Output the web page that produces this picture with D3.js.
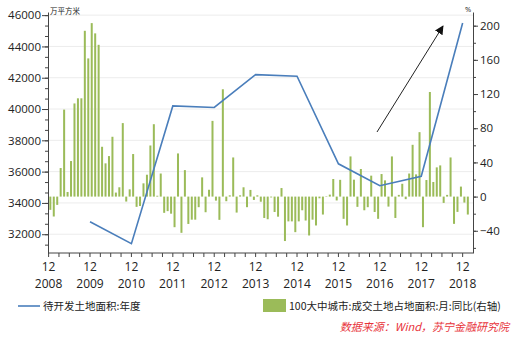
<!DOCTYPE html>
<html>
<head>
<meta charset="utf-8">
<script src="https://cdn.jsdelivr.net/npm/d3@7"></script>
<style>
  body { margin: 0; background: #fff; }
  svg { display: block; }
</style>
</head>
<body>
<div id="chart"></div>
<script>

// months on the x axis: 2008-12 .. 2019-02 (the last month has no bar)
var months = d3.timeMonth.range(new Date(2008, 11, 1), new Date(2019, 2, 1));

// 100大中城市:成交土地占地面积:月:同比 (%), from 2008-12
var yoy = [
  -15.5, -23.3, -9.7, 33.4, 101.8, 5.4, 41.6, 109, 115, 115, 194, 161.7, 203,
  191, 177.6, 58.3, 38.9, 47.4, 70, 4.7, 10.9, 86, -5.8, 8.5, 49.8,
  -12, -11, 15.5, 25.6, 59.8, 84.7, 1, 27, -19, -17, -20, -35.8, 50.5, -42.4,
  31, -32, -27, -27, -12.4, 22.5, -18.3, 8, 88.6, -4.7, -27.2, 125.6, -5.4, 1.5,
  45.8, -18.7,
  1.5, 10.9, -12.4, 7.8, -3.9, 1.5, -6, -25, -26.5, -1, -18, -23.5, 10, -52,
  -29, -29, -41.6, -29,
  -16, -28, -45.5, -27, -33.8, -2, -21, 0.5, 2.3, 20.6, -4.5, 19.6, -26, -33.8,
  47, 19.8, -12, 32.3, -16, -12.4, 24.5, -18, -26, 26.4, 19,
  -11.7, 47, -25, 2, 15, -3, 27, 60.6, 26, 75.4, -35.8, 19.4, 122.4, 17.1, 34.2,
  36.5, -7.4, 2, 45.8, -31.9, -17.9, 11.7, -7, -21
];

// 待开发土地面积:年度 (万平方米)
var years = [2009, 2010, 2011, 2012, 2013, 2014, 2015, 2016, 2017, 2018];
var landArea = [32800, 31400, 40200, 40100, 42200, 42100, 36500, 35100, 35700, 45500];

var leftTicks = [32000, 34000, 36000, 38000, 40000, 42000, 44000, 46000];
var rightTicks = [-40, 0, 40, 80, 120, 160, 200];
var yearLabels = [2008, 2009, 2010, 2011, 2012, 2013, 2014, 2015, 2016, 2017, 2018];

var fmt = d3.timeFormat("%Y-%m");

var svgWidth = 521, svgHeight = 337;
var plotLeft = 48, plotRight = 473, plotTop = 12, plotBottom = 253;

var svg = d3.select("#chart").append("svg")
  .attr("width", svgWidth)
  .attr("height", svgHeight)
  .style("font-family", "'Open Sans', 'Noto Sans CJK SC', sans-serif");

// scales
var x = d3.scaleBand()
  .domain(months.map(fmt))
  .range([48.6, plotRight])
  .padding(0);

var yL = d3.scaleLinear().domain([30800, 46200]).range([plotBottom, plotTop]);
var yR = d3.scaleLinear().domain([-66, 216]).range([plotBottom, plotTop]);

var bw = x.bandwidth();

// gridlines
svg.append("g").selectAll("line")
  .data(leftTicks)
  .enter().append("line")
  .attr("x1", plotLeft).attr("x2", plotRight)
  .attr("y1", d => yL(d)).attr("y2", d => yL(d))
  .attr("stroke", "#ececec")
  .attr("stroke-width", 1);

// bars
svg.append("g").selectAll("rect")
  .data(yoy)
  .enter().append("rect")
  .attr("x", (d, i) => x(fmt(months[i])) + bw * 0.21)
  .attr("width", bw * 0.58)
  .attr("y", d => Math.min(yR(d), yR(0)))
  .attr("height", d => Math.abs(yR(d) - yR(0)))
  .attr("fill", "#9bbb59");

// line (points at the December of each year)
var line = d3.line()
  .x((d, i) => x(fmt(new Date(years[i], 11, 1))))
  .y(d => yL(d));

svg.append("path")
  .datum(landArea)
  .attr("d", line)
  .attr("fill", "none")
  .attr("stroke", "#4a7ebb")
  .attr("stroke-width", 1.6);

// left axis, minor ticks every 2000/3
var minorL = d3.range(0, 24).map(i => 32000 + (i - 1) * 2000 / 3).filter(d => d >= 30800 && d <= 46200);

svg.append("g")
  .attr("transform", `translate(${plotLeft},0)`)
  .call(d3.axisLeft(yL).tickValues(minorL).tickSize(3).tickSizeOuter(0).tickFormat(""))
  .call(g => g.select(".domain").remove())
  .selectAll("line").attr("stroke", "#444");

var gL = svg.append("g")
  .attr("transform", `translate(${plotLeft},0)`)
  .call(d3.axisLeft(yL).tickValues(leftTicks).tickSize(6).tickSizeOuter(0).tickPadding(1)
    .tickFormat(d3.format("d")));
gL.select(".domain").attr("stroke", "#444");
gL.selectAll("line").attr("stroke", "#444");
gL.selectAll("text").attr("font-size", "11.5px").attr("fill", "#222")
  .style("font-family", "'Open Sans', sans-serif");

// right axis
var minorR = d3.range(-60, 201, 20);
svg.append("g")
  .attr("transform", `translate(${plotRight},0)`)
  .call(d3.axisRight(yR).tickValues(minorR).tickSize(3).tickSizeOuter(0).tickFormat(""))
  .call(g => g.select(".domain").remove())
  .selectAll("line").attr("stroke", "#444");

var gR = svg.append("g")
  .attr("transform", `translate(${plotRight},0)`)
  .call(d3.axisRight(yR).tickValues(rightTicks).tickSize(5).tickSizeOuter(0).tickPadding(2)
    .tickFormat(d3.format("d")));
gR.select(".domain").attr("stroke", "#444");
gR.selectAll("line").attr("stroke", "#444");
gR.selectAll("text").attr("font-size", "11.5px").attr("fill", "#222")
  .style("font-family", "'Open Sans', sans-serif");

// bottom axis: ticks at the start of each quarter band, labels at December
var quarterTicks = months.filter((d, i) => i % 3 === 0).map(fmt);
svg.append("g")
  .attr("transform", `translate(${-bw / 2},${plotBottom})`)
  .call(d3.axisBottom(x).tickValues(quarterTicks).tickSize(4).tickSizeOuter(0).tickFormat(""))
  .call(g => g.select(".domain").remove())
  .selectAll("line").attr("stroke", "#444");

svg.append("line")
  .attr("x1", plotLeft).attr("x2", plotRight)
  .attr("y1", plotBottom).attr("y2", plotBottom)
  .attr("stroke", "#444");

var xl = svg.append("g").selectAll("text")
  .data(yearLabels)
  .enter().append("text")
  .attr("x", d => x(fmt(new Date(d, 11, 1))))
  .attr("text-anchor", "middle")
  .attr("font-size", "12px")
  .attr("fill", "#222")
  .style("font-family", "'Open Sans', sans-serif");
xl.append("tspan").attr("x", d => x(fmt(new Date(d, 11, 1)))).attr("y", 271).text("12");
xl.append("tspan").attr("x", d => x(fmt(new Date(d, 11, 1)))).attr("y", 288).text(d => d);

// units
svg.append("text")
  .attr("x", 50).attr("y", 14)
  .attr("font-size", "7.5px")
  .attr("fill", "#222")
  .style("font-family", "'Noto Sans CJK SC', sans-serif")
  .text("万平方米");

svg.append("text")
  .attr("x", 465).attr("y", 12)
  .attr("font-size", "7.5px")
  .attr("fill", "#222")
  .text("%");

// arrow annotation
svg.append("defs").append("marker")
  .attr("id", "arrow")
  .attr("viewBox", "0 0 10 10")
  .attr("refX", 9).attr("refY", 5)
  .attr("markerWidth", 9).attr("markerHeight", 9)
  .attr("markerUnits", "userSpaceOnUse")
  .attr("orient", "auto")
  .append("path")
  .attr("d", "M0,0 L10,5 L0,10 z")
  .attr("fill", "#111");

svg.append("line")
  .attr("x1", 377).attr("y1", 132)
  .attr("x2", 443).attr("y2", 26)
  .attr("stroke", "#222")
  .attr("stroke-width", 1)
  .attr("marker-end", "url(#arrow)");

// legend
svg.append("line")
  .attr("x1", 18).attr("x2", 40)
  .attr("y1", 306).attr("y2", 306)
  .attr("stroke", "#4a7ebb")
  .attr("stroke-width", 1.6);

svg.append("text")
  .attr("x", 43).attr("y", 310)
  .attr("font-size", "10.5px")
  .attr("fill", "#222")
  .style("font-family", "'Noto Sans CJK SC', sans-serif")
  .text("待开发土地面积:年度");

svg.append("rect")
  .attr("x", 263).attr("y", 299)
  .attr("width", 23).attr("height", 13)
  .attr("fill", "#9bbb59");

svg.append("text")
  .attr("x", 289).attr("y", 310)
  .attr("font-size", "10.5px")
  .attr("fill", "#222")
  .style("font-family", "'Noto Sans CJK SC', sans-serif")
  .text("100大中城市:成交土地占地面积:月:同比(右轴)");

// source
svg.append("text")
  .attr("x", 509).attr("y", 331)
  .attr("text-anchor", "end")
  .attr("font-size", "11px")
  .attr("font-style", "italic")
  .attr("fill", "#e8333a")
  .style("font-family", "'Noto Sans CJK SC', sans-serif")
  .text("数据来源：Wind，苏宁金融研究院");

</script>
</body>
</html>
